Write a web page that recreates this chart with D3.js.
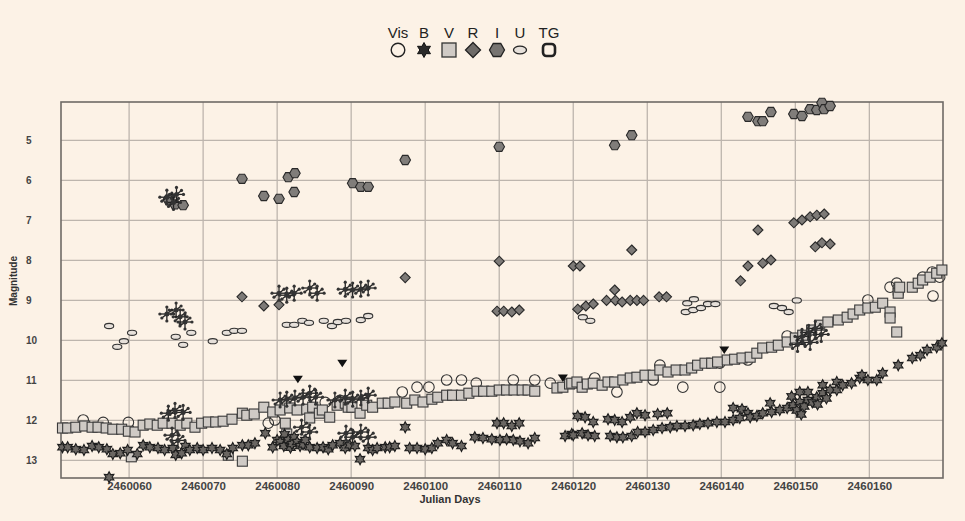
<!DOCTYPE html>
<html>
<head>
<meta charset="utf-8">
<script src="https://cdn.jsdelivr.net/npm/d3@7"></script>
<style>
  body { margin: 0; background: #fcf2e6; }
  svg { display: block; font-family: Arial, "Liberation Sans", sans-serif; }
</style>
</head>
<body>
<svg id="chart" width="965" height="521"></svg>
<script>
// days are JD - 2460000
const JD0 = 2460000;

const xTicks = [60, 70, 80, 90, 100, 110, 120, 130, 140, 150, 160];
const yTicks = [5, 6, 7, 8, 9, 10, 11, 12, 13];

const legendNames = ["Vis", "B", "V", "R", "I", "U", "TG"];

// visual estimates
const visData = [
  [53.8, 11.99], [56.5, 12.05], [59.9, 12.05], [78.8, 12.07], [79.7, 11.99],
  [86.5, 11.55], [88.5, 11.5], [96.9, 11.29], [98.9, 11.17], [100.5, 11.17],
  [102.9, 10.99], [104.9, 10.99], [106.9, 11.07], [111.9, 10.99], [114.8, 10.99],
  [116.9, 11.07], [122.9, 10.94], [125.9, 11.29], [130.8, 10.99], [131.7, 10.62],
  [134.8, 11.17], [139.8, 11.17], [139.8, 10.57], [143.6, 10.49], [148.9, 9.89],
  [159.8, 8.99], [162.8, 8.67], [163.7, 8.57], [167.2, 8.42], [168.5, 8.29],
  [168.6, 8.89], [169.5, 8.42]
];

// fainter-than limits
const visLimits = [[82.8, 10.97], [88.8, 10.57], [118.6, 10.94], [140.4, 10.24]];

const bData = [
  [51.0, 12.67], [51.7, 12.67], [52.8, 12.72], [53.9, 12.74], [55.0, 12.64], [55.9, 12.67],
  [57.0, 12.72], [57.3, 13.42], [57.8, 12.84], [58.8, 12.82], [59.8, 12.74], [61.1, 12.84],
  [61.9, 12.62], [62.8, 12.67], [63.9, 12.69], [64.8, 12.74], [65.9, 12.69], [66.3, 12.86],
  [67.1, 12.82], [67.6, 12.64], [68.2, 12.74], [69.2, 12.69], [70.0, 12.74], [71.2, 12.69],
  [72.3, 12.74], [73.2, 12.84], [74.0, 12.69], [75.3, 12.62], [76.1, 12.62], [77.0, 12.57],
  [78.4, 12.32], [79.4, 12.67], [80.0, 12.49], [80.4, 12.54], [80.9, 12.64], [81.0, 12.35],
  [81.5, 12.49], [81.8, 12.68], [82.0, 12.59], [82.3, 12.42], [82.7, 12.54], [83.1, 12.64],
  [83.5, 12.6], [83.8, 12.49], [84.4, 12.67], [85.4, 12.69], [86.2, 12.67], [86.9, 12.72],
  [87.5, 12.62], [88.5, 12.57], [89.2, 12.69], [89.8, 12.62], [90.5, 12.64], [91.2, 12.97],
  [92.3, 12.69], [92.9, 12.74], [93.5, 12.69], [94.6, 12.67], [95.2, 12.67], [95.9, 12.64],
  [97.3, 12.17], [97.9, 12.69], [98.9, 12.69], [100.0, 12.72], [100.9, 12.69], [101.7, 12.57],
  [102.9, 12.49], [103.7, 12.57], [104.9, 12.64], [106.7, 12.42], [107.8, 12.44], [109.0, 12.47],
  [109.7, 12.07], [110.1, 12.49], [110.6, 12.07], [111.0, 12.47], [111.7, 12.14], [111.9, 12.49],
  [112.7, 12.07], [112.8, 12.52], [113.9, 12.57], [114.8, 12.44], [118.9, 12.39], [119.8, 12.34],
  [120.0, 12.37], [120.6, 11.89], [121.2, 12.32], [121.6, 11.92], [122.0, 12.37], [122.7, 12.04],
  [122.9, 12.39], [124.7, 11.97], [125.0, 12.39], [125.6, 11.99], [125.9, 12.42], [126.6, 12.04],
  [126.7, 12.42], [127.7, 11.92], [127.9, 12.39], [128.6, 11.82], [128.7, 12.29], [129.7, 11.87],
  [129.7, 12.29], [130.8, 12.24], [131.4, 11.84], [132.0, 12.19], [132.7, 11.82], [133.1, 12.17],
  [134.0, 12.14], [135.1, 12.14], [136.2, 12.12], [137.1, 12.09], [138.2, 12.07], [139.4, 12.04],
  [140.5, 12.04], [141.6, 11.69], [141.6, 11.99], [142.5, 11.94], [142.8, 11.72], [143.6, 11.82],
  [143.9, 11.92], [144.8, 11.89], [145.6, 11.82], [146.6, 11.57], [146.8, 11.79], [147.9, 11.74],
  [148.9, 11.69], [149.5, 11.4], [149.7, 11.62], [150.2, 11.75], [150.6, 11.29], [150.6, 11.54],
  [150.8, 11.85], [151.2, 11.65], [151.7, 11.49], [151.7, 11.29], [152.3, 11.55], [152.9, 11.42],
  [153.0, 11.6], [153.7, 11.12], [153.7, 11.32], [154.2, 11.45], [154.7, 11.24], [155.6, 11.04],
  [155.6, 11.24], [156.4, 11.12], [157.6, 11.07], [158.7, 10.94], [159.0, 10.87], [159.8, 10.99],
  [161.0, 10.99], [161.8, 10.82], [163.9, 10.62], [165.8, 10.44], [166.9, 10.37], [167.8, 10.24],
  [169.1, 10.17], [169.8, 10.07]
];

const vData = [
  [51.0, 12.19], [51.7, 12.19], [52.8, 12.17], [54.0, 12.14], [55.0, 12.17], [55.8, 12.17],
  [56.9, 12.19], [57.8, 12.22], [59.0, 12.22], [59.9, 12.27], [60.3, 12.91], [60.8, 12.29],
  [61.9, 12.12], [62.8, 12.09], [63.8, 12.12], [64.6, 12.07], [65.8, 12.07], [66.9, 12.12],
  [67.8, 12.07], [68.9, 12.17], [69.8, 12.07], [70.7, 12.04], [71.7, 12.04], [72.7, 12.02],
  [73.4, 12.87], [73.9, 11.97], [75.3, 11.82], [75.3, 13.02], [75.9, 11.87], [76.9, 11.84],
  [78.2, 11.67], [79.4, 11.79], [80.4, 11.74], [81.1, 12.07], [81.3, 12.34], [81.7, 11.69],
  [82.7, 11.74], [84.0, 11.72], [84.4, 11.94], [84.8, 11.67], [85.7, 11.82], [86.1, 11.74],
  [87.1, 11.92], [88.1, 11.62], [89.2, 11.57], [89.6, 11.67], [90.1, 11.67], [91.2, 11.82],
  [92.1, 11.62], [92.9, 11.67], [94.2, 11.57], [95.0, 11.57], [95.9, 11.54], [97.5, 11.57],
  [98.6, 11.49], [99.7, 11.54], [100.9, 11.47], [101.7, 11.42], [102.9, 11.37], [103.7, 11.37],
  [104.9, 11.37], [105.9, 11.32], [107.0, 11.27], [107.9, 11.27], [109.0, 11.27], [110.0, 11.24],
  [111.0, 11.24], [112.0, 11.24], [113.1, 11.24], [113.9, 11.24], [114.8, 11.27], [117.8, 11.19],
  [118.6, 11.17], [119.5, 11.09], [119.8, 11.07], [120.5, 11.04], [121.2, 11.17], [121.9, 11.09],
  [122.7, 11.07], [123.9, 11.12], [124.7, 11.04], [125.6, 11.04], [126.7, 10.99], [127.7, 10.94],
  [128.6, 10.92], [129.7, 10.87], [130.8, 10.87], [131.7, 10.74], [132.8, 10.79], [133.9, 10.74],
  [135.1, 10.74], [136.0, 10.69], [136.8, 10.62], [137.8, 10.57], [138.7, 10.57], [139.5, 10.54],
  [140.8, 10.49], [141.8, 10.47], [142.8, 10.44], [143.9, 10.42], [144.8, 10.32], [145.6, 10.19],
  [146.8, 10.17], [147.7, 10.12], [148.9, 10.04], [150.0, 9.94], [151.0, 9.87], [152.2, 9.74],
  [153.3, 9.62], [154.4, 9.54], [155.8, 9.49], [157.0, 9.42], [157.8, 9.34], [158.7, 9.24],
  [159.8, 9.19], [160.8, 9.17], [161.8, 9.07], [162.8, 9.29], [162.8, 9.44], [163.7, 9.79],
  [163.9, 8.74], [163.9, 8.82], [164.1, 8.67], [165.8, 8.67], [166.6, 8.57], [167.2, 8.49],
  [168.2, 8.42], [169.1, 8.32], [169.8, 8.24]
];

const rData = [
  [75.25, 8.91], [78.2, 9.14], [80.25, 9.11], [97.3, 8.43], [110.0, 8.02], [109.7, 9.27],
  [110.6, 9.27], [111.7, 9.29], [112.7, 9.24], [120.0, 8.14], [120.9, 8.14], [120.6, 9.22],
  [121.7, 9.14], [122.7, 9.09], [124.5, 9.0], [125.6, 8.74], [125.7, 9.0], [126.6, 9.04],
  [127.7, 9.0], [127.9, 7.74], [128.6, 9.0], [129.5, 9.0], [131.6, 8.91], [132.6, 8.91],
  [142.6, 8.51], [143.6, 8.14], [144.95, 7.24], [145.6, 8.07], [146.7, 7.99], [149.8, 7.06],
  [150.9, 6.99], [152.0, 6.91], [152.9, 6.87], [153.9, 6.84], [152.7, 7.66], [153.6, 7.56],
  [154.7, 7.59]
];

const iData = [
  [65.3, 6.48], [66.2, 6.6], [67.3, 6.62], [75.25, 5.96], [78.2, 6.39], [80.25, 6.46],
  [81.5, 5.92], [82.4, 5.82], [82.3, 6.29], [90.2, 6.07], [91.3, 6.16], [92.3, 6.16],
  [97.3, 5.49], [110.0, 5.16], [125.6, 5.12], [127.9, 4.87], [143.6, 4.41], [144.95, 4.52],
  [145.6, 4.52], [146.7, 4.29], [149.8, 4.34], [150.9, 4.39], [152.0, 4.22], [152.9, 4.24],
  [153.6, 4.06], [153.9, 4.22], [154.7, 4.14]
];

const uData = [
  [57.3, 9.64], [58.4, 10.16], [59.3, 10.02], [60.4, 9.81], [66.3, 9.91], [67.3, 10.11],
  [68.4, 9.81], [71.3, 10.02], [73.2, 9.81], [74.2, 9.76], [75.25, 9.76], [81.3, 9.61],
  [82.3, 9.61], [83.4, 9.51], [84.3, 9.56], [86.3, 9.51], [87.4, 9.64], [88.2, 9.54],
  [89.3, 9.51], [91.3, 9.49], [92.3, 9.39], [121.3, 9.42], [122.3, 9.51], [135.2, 9.29],
  [135.4, 9.07], [136.3, 8.97], [136.2, 9.24], [137.25, 9.19], [138.2, 9.09], [139.2, 9.09],
  [147.1, 9.14], [148.2, 9.19], [149.1, 9.29], [150.2, 9.0]
];

// points drawn with error bars (spoked marks)
const errData = [
  [65.1, 6.42], [66.4, 6.35], [66.0, 6.55],
  [65.1, 9.34], [66.35, 9.24], [66.9, 9.41], [67.55, 9.54],
  [80.25, 8.82], [81.3, 8.87], [82.3, 8.82], [84.4, 8.69], [85.4, 8.82],
  [89.2, 8.72], [90.2, 8.74], [91.3, 8.72], [92.3, 8.69],
  [65.3, 11.82], [66.2, 11.75], [67.3, 11.8], [65.8, 12.37], [66.6, 12.5],
  [80.4, 11.49], [81.3, 11.47], [82.4, 11.44], [83.5, 11.42], [84.4, 11.32], [85.2, 11.42],
  [84.4, 12.29], [83.3, 12.17],
  [87.8, 11.49], [89.2, 11.42], [90.2, 11.47], [91.3, 11.44], [92.3, 11.37],
  [89.3, 12.32], [90.2, 12.42], [91.3, 12.29], [92.3, 12.42],
  [150.9, 9.9], [151.8, 9.8], [152.7, 9.7], [153.5, 9.85], [150.3, 10.1], [152.0, 10.05]
];

const margin = {top: 102, right: 22, bottom: 43, left: 61},
    width = 965 - margin.left - margin.right,
    height = 521 - margin.top - margin.bottom;

const svg = d3.select("#chart");
svg.append("rect").attr("width", 965).attr("height", 521).attr("fill", "#fcf2e6");

const g = svg.append("g")
    .attr("transform", "translate(" + margin.left + "," + margin.top + ")");

const x = d3.scaleLinear().domain([50.8, 169.95]).range([0, width]);
const y = d3.scaleLinear().domain([4.04, 13.44]).range([0, height]);

// grid
g.selectAll(".vgrid").data(xTicks).enter().append("line")
    .attr("x1", d => x(d)).attr("x2", d => x(d))
    .attr("y1", 0).attr("y2", height)
    .attr("stroke", "#bdb5ad").attr("stroke-width", 1.3);
g.selectAll(".hgrid").data(yTicks).enter().append("line")
    .attr("x1", 0).attr("x2", width)
    .attr("y1", d => y(d)).attr("y2", d => y(d))
    .attr("stroke", "#bdb5ad").attr("stroke-width", 1.3);

g.append("rect").attr("width", width).attr("height", height)
    .attr("fill", "none").attr("stroke", "#6e6a66").attr("stroke-width", 1.6);

// axes
const xAxis = g.append("g")
    .attr("transform", "translate(0," + height + ")")
    .call(d3.axisBottom(x).tickValues(xTicks).tickFormat(d => JD0 + d).tickSize(0).tickPadding(4));
xAxis.select(".domain").remove();
xAxis.selectAll("text").attr("font-size", "11.5px").attr("font-weight", "bold").attr("fill", "#444");

const yAxis = g.append("g")
    .call(d3.axisLeft(y).tickValues(yTicks).tickSize(0).tickPadding(0));
yAxis.select(".domain").remove();
yAxis.selectAll("text").attr("x", 26 - margin.left).attr("text-anchor", "start")
    .attr("font-size", "10px").attr("font-weight", "bold").attr("fill", "#444");

svg.append("text")
    .attr("x", 450).attr("y", 503)
    .attr("text-anchor", "middle")
    .attr("font-size", "11px").attr("font-weight", "bold").attr("fill", "#333")
    .text("Julian Days");

svg.append("text")
    .attr("transform", "translate(17,281) rotate(-90)")
    .attr("text-anchor", "middle")
    .attr("font-size", "10px").attr("font-weight", "bold").attr("fill", "#333")
    .text("Magnitude");

// symbol paths
function starPath(R, r) {
  const pts = [];
  for (let i = 0; i < 12; i++) {
    const a = Math.PI / 6 * i - Math.PI / 2;
    const rr = i % 2 === 0 ? R : r;
    pts.push([rr * Math.cos(a), rr * Math.sin(a)]);
  }
  return "M" + pts.map(p => p.join(",")).join("L") + "Z";
}
function hexPath(R) {
  const pts = [];
  for (let i = 0; i < 6; i++) {
    const a = Math.PI / 3 * i;
    pts.push([R * Math.cos(a), R * Math.sin(a)]);
  }
  return "M" + pts.map(p => p.join(",")).join("L") + "Z";
}
function diamondPath(R) {
  return "M0," + (-R) + "L" + R + ",0L0," + R + "L" + (-R) + ",0Z";
}

const pos = d => "translate(" + x(d[0]) + "," + y(d[1]) + ")";

// Vis
g.selectAll(".vis").data(visData).enter().append("circle")
    .attr("cx", d => x(d[0])).attr("cy", d => y(d[1])).attr("r", 5.3)
    .attr("fill", "none").attr("stroke", "#333").attr("stroke-width", 1.1);

// V
g.selectAll(".v").data(vData).enter().append("rect")
    .attr("x", d => x(d[0]) - 5).attr("y", d => y(d[1]) - 5)
    .attr("width", 10).attr("height", 10)
    .attr("fill", "#cfcac5").attr("stroke", "#3a3a3a").attr("stroke-width", 1.1);

// B
g.selectAll(".b").data(bData).enter().append("path")
    .attr("d", starPath(5.5, 3))
    .attr("transform", pos)
    .attr("fill", "#6a6662").attr("stroke", "#1e1e1e").attr("stroke-width", 1.1);

// R
g.selectAll(".r").data(rData).enter().append("path")
    .attr("d", diamondPath(5))
    .attr("transform", pos)
    .attr("fill", "#7d7a77").attr("stroke", "#2a2a2a").attr("stroke-width", 1.1);

// I
g.selectAll(".i").data(iData).enter().append("path")
    .attr("d", hexPath(5.3))
    .attr("transform", pos)
    .attr("fill", "#807d7a").attr("stroke", "#2a2a2a").attr("stroke-width", 1.1);

// U
g.selectAll(".u").data(uData).enter().append("ellipse")
    .attr("cx", d => x(d[0])).attr("cy", d => y(d[1]))
    .attr("rx", 4.6).attr("ry", 2.6)
    .attr("fill", "#e6e0da").attr("stroke", "#333").attr("stroke-width", 1.1);

// spoked marks
const spokes = [[0, -7], [0, 7], [-7, 0], [7, 0], [5, -4], [-5, 4]];
const err = g.selectAll(".err").data(errData).enter().append("g").attr("transform", pos);
spokes.forEach(s => {
  err.append("line").attr("x1", 0).attr("y1", 0).attr("x2", s[0]).attr("y2", s[1])
      .attr("stroke", "#222").attr("stroke-width", 1.3);
  err.append("circle").attr("cx", s[0]).attr("cy", s[1]).attr("r", 1.6).attr("fill", "#333");
});
err.append("circle").attr("r", 2.5).attr("fill", "#333");

// limits
g.selectAll(".lim").data(visLimits).enter().append("path")
    .attr("d", "M-5,-3.5L5,-3.5L0,4Z")
    .attr("transform", pos)
    .attr("fill", "#111");

// legend
const legendX = [398, 424, 449, 473, 497, 520, 549];
const leg = svg.append("g");
leg.selectAll("text").data(legendNames).enter().append("text")
    .attr("x", (d, i) => legendX[i]).attr("y", 38)
    .attr("text-anchor", "middle")
    .attr("font-size", "15px").attr("fill", "#222")
    .text(d => d);

const ly = 50;
leg.append("circle").attr("cx", legendX[0]).attr("cy", ly).attr("r", 6.8)
    .attr("fill", "none").attr("stroke", "#222").attr("stroke-width", 1.4);
leg.append("path").attr("d", starPath(7.5, 4.2))
    .attr("transform", "translate(" + legendX[1] + "," + ly + ")")
    .attr("fill", "#2a2a2a").attr("stroke", "#111");
leg.append("rect").attr("x", legendX[2] - 7).attr("y", ly - 7).attr("width", 14).attr("height", 14)
    .attr("fill", "#cfcac5").attr("stroke", "#333").attr("stroke-width", 1.3);
leg.append("path").attr("d", diamondPath(7.5))
    .attr("transform", "translate(" + legendX[3] + "," + ly + ")")
    .attr("fill", "#6e6b68").attr("stroke", "#222").attr("stroke-width", 1.3);
leg.append("path").attr("d", hexPath(7.5))
    .attr("transform", "translate(" + legendX[4] + "," + ly + ")")
    .attr("fill", "#777471").attr("stroke", "#222").attr("stroke-width", 1.3);
leg.append("ellipse").attr("cx", legendX[5]).attr("cy", ly).attr("rx", 6.5).attr("ry", 3.8)
    .attr("fill", "#e6e0da").attr("stroke", "#222").attr("stroke-width", 1.3);
leg.append("rect").attr("x", legendX[6] - 6).attr("y", ly - 6).attr("width", 12).attr("height", 12)
    .attr("rx", 3.5).attr("fill", "#fcf2e6").attr("stroke", "#222").attr("stroke-width", 2.6);
</script>
</body>
</html>
